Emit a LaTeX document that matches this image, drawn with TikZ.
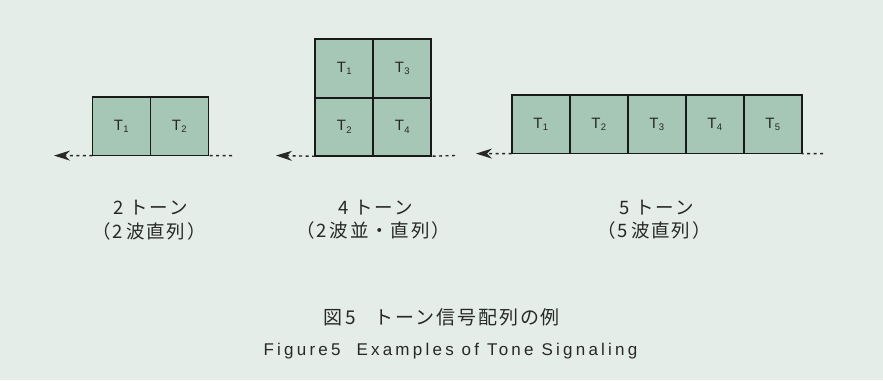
\documentclass[tikz,border=0pt]{standalone}
\usepackage{fontspec}
\setmainfont{Liberation Sans}
\newfontfamily\jp[LetterSpace=10]{Noto Sans CJK JP}
\newfontfamily\capfont[LetterSpace=19]{Liberation Sans}
\usetikzlibrary{positioning,arrows.meta}
\definecolor{paper}{RGB}{228,237,232}
\definecolor{tonefill}{RGB}{166,198,182}
\definecolor{ink}{RGB}{40,40,40}
\newcommand{\tn}[1]{T\kern.4pt\raisebox{-.3ex}{\fontsize{9.5}{9.5}\selectfont #1}}

\begin{document}
\begin{tikzpicture}[x=1pt,y=-1pt,node distance=0pt,
  cell/.style={draw=black!90, line width=1.6pt, fill=tonefill, minimum width=58pt,
    minimum height=58.5pt, inner sep=0pt, outer sep=0pt, text=ink,
    font=\fontsize{15}{15}\selectfont},
  flow/.style={ink, line width=1.4pt, dash pattern=on 3pt off 3.5pt},
  tip/.style={flow, -{Stealth[length=16pt,width=10pt,inset=5pt]}},
  tonename/.style={anchor=base, text=ink, inner sep=0pt, font=\jp\fontsize{18.5}{18.5}\selectfont}]
\fill[paper] (0,0) rectangle (883,380);
\useasboundingbox (0,0) rectangle (883,380);

% 2 tones
\node[cell] (a1) at (121.3,126.3) {\tn{1}};
\node[cell, right=of a1] (a2) {\tn{2}};
\coordinate (out1) at (54,155.6);
\coordinate (in1) at (232,155.6);
\draw[tip] (a1.south west) -- (out1);
\draw[flow] (in1) -- (a2.south east);
\node[tonename] (n1) at (150.5,214) {2\ トーン};
\node[tonename] (p1) at (149,238) {（2\,波直列）};

% 4 tones
\node[cell] (b1) at (344.2,68.5) {\tn{1}};
\node[cell, right=of b1] (b3) {\tn{3}};
\node[cell, below=of b1] (b2) {\tn{2}};
\node[cell, right=of b2] (b4) {\tn{4}};
\coordinate (out2) at (276,155.5);
\coordinate (in2) at (455,155.5);
\draw[tip] (b2.south west) -- (out2);
\draw[flow] (in2) -- (b4.south east);
\node[tonename] (n2) at (375.5,214) {4\ トーン};
\node[tonename] (p2) at (373,237) {（2\,波並・直列）};

% 5 tones
\node[cell] (c1) at (540.7,124.3) {\tn{1}};
\foreach \i [count=\j from 1] in {2,...,5}
  \node[cell, right=of c\j] (c\i) {\tn{\i}};
\coordinate (out3) at (476,153.6);
\coordinate (in3) at (823,153.6);
\draw[tip] (c1.south west) -- (out3);
\draw[flow] (in3) -- (c5.south east);
\node[tonename] (n3) at (656.5,214) {5\ トーン};
\node[tonename] (p3) at (654,237) {（5\,波直列）};

% caption
\node[anchor=base, text=ink, inner sep=0pt, font=\jp\fontsize{19}{19}\selectfont]
  (capjp) at (441.5,324) {図\,5\quad トーン信号配列の例};
\node[anchor=base, text=ink, inner sep=0pt, font=\capfont\fontsize{17}{17}\selectfont]
  (capen) at (450.5,355.7) {Figure5\ \ Examples of Tone Signaling};
\end{tikzpicture}
\end{document}
